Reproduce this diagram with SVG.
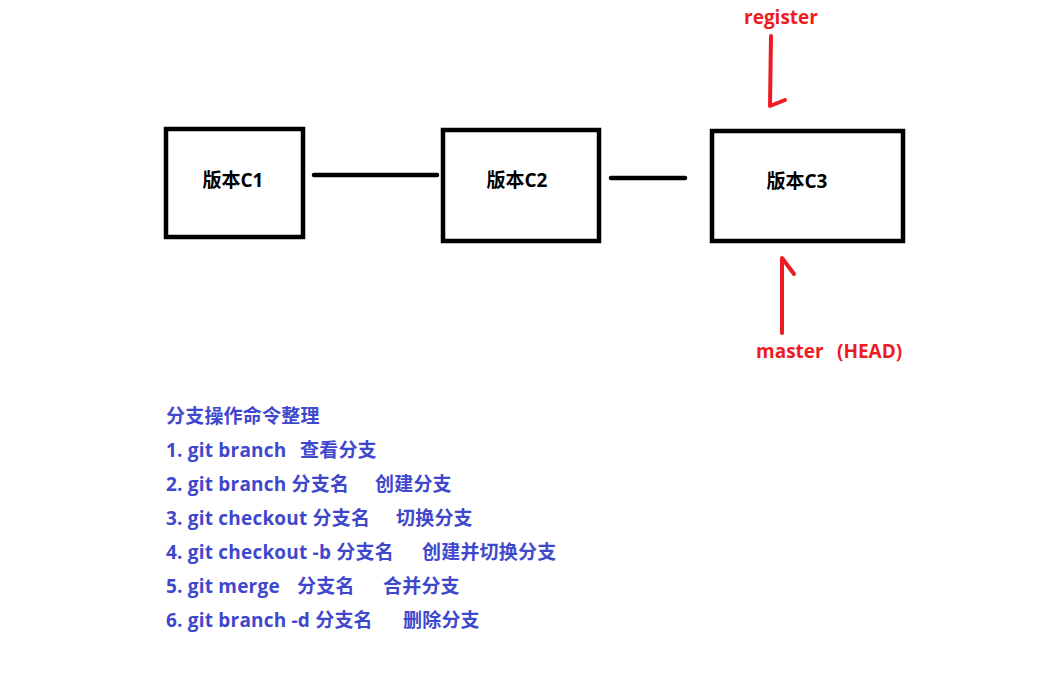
<svg xmlns="http://www.w3.org/2000/svg" width="1056" height="676" viewBox="0 0 1056 676">
<style>
.box{fill:#fff;stroke:#000;stroke-width:4.5}
.lbl{font-family:"Open Sans","Noto Sans CJK SC",sans-serif;font-weight:bold;font-size:19px;fill:#000;text-anchor:middle}
.con{stroke:#000;stroke-width:4.5;stroke-linecap:round;fill:none}
.red{stroke:#ed1c24;stroke-width:4;stroke-linecap:round;stroke-linejoin:round;fill:none}
.rt{font-family:"Open Sans","Noto Sans CJK SC",sans-serif;font-weight:bold;font-size:19px;fill:#ed1c24}
.bt{font-family:"Open Sans","Noto Sans CJK SC",sans-serif;font-weight:bold;font-size:19px;fill:#3f48cc;letter-spacing:0.2px}
</style>
<rect width="1056" height="676" fill="#fff"/>
<g id="connectors">
<line class="con" x1="314" y1="175" x2="437" y2="175"/>
<line class="con" x1="611" y1="178" x2="685" y2="178"/>
<path id="register-arrow" class="red" d="M771 36 L770 106 L785 100"/>
<path id="master-arrow" class="red" d="M782 333 L782 258 L794 274"/>
</g>
<g id="c1"><rect class="box" x="166" y="129" width="137" height="108"/><text class="lbl" x="233" y="187">版本C1</text></g>
<g id="c2"><rect class="box" x="443" y="130" width="156" height="111"/><text class="lbl" x="517" y="187">版本C2</text></g>
<g id="c3"><rect class="box" x="712" y="131" width="191" height="110"/><text class="lbl" x="797" y="188">版本C3</text></g>
<g id="register"><text class="rt" x="781" y="24" text-anchor="middle">register</text></g>
<g id="master"><text class="rt" x="756" y="358">master</text><text class="rt" x="837" y="358">(HEAD)</text></g>
<g id="notes">
<text class="bt" x="166" y="423">分支操作命令整理</text>
<text class="bt" x="166" y="457">1. git branch<tspan x="300">查看分支</tspan></text>
<text class="bt" x="166" y="491">2. git branch 分支名<tspan x="375">创建分支</tspan></text>
<text class="bt" x="166" y="525">3. git checkout 分支名<tspan x="396">切换分支</tspan></text>
<text class="bt" x="166" y="559">4. git checkout -b 分支名<tspan x="422">创建并切换分支</tspan></text>
<text class="bt" x="166" y="593">5. git merge<tspan x="297">分支名</tspan><tspan x="383">合并分支</tspan></text>
<text class="bt" x="166" y="627">6. git branch -d 分支名<tspan x="403">删除分支</tspan></text>
</g>
</svg>
